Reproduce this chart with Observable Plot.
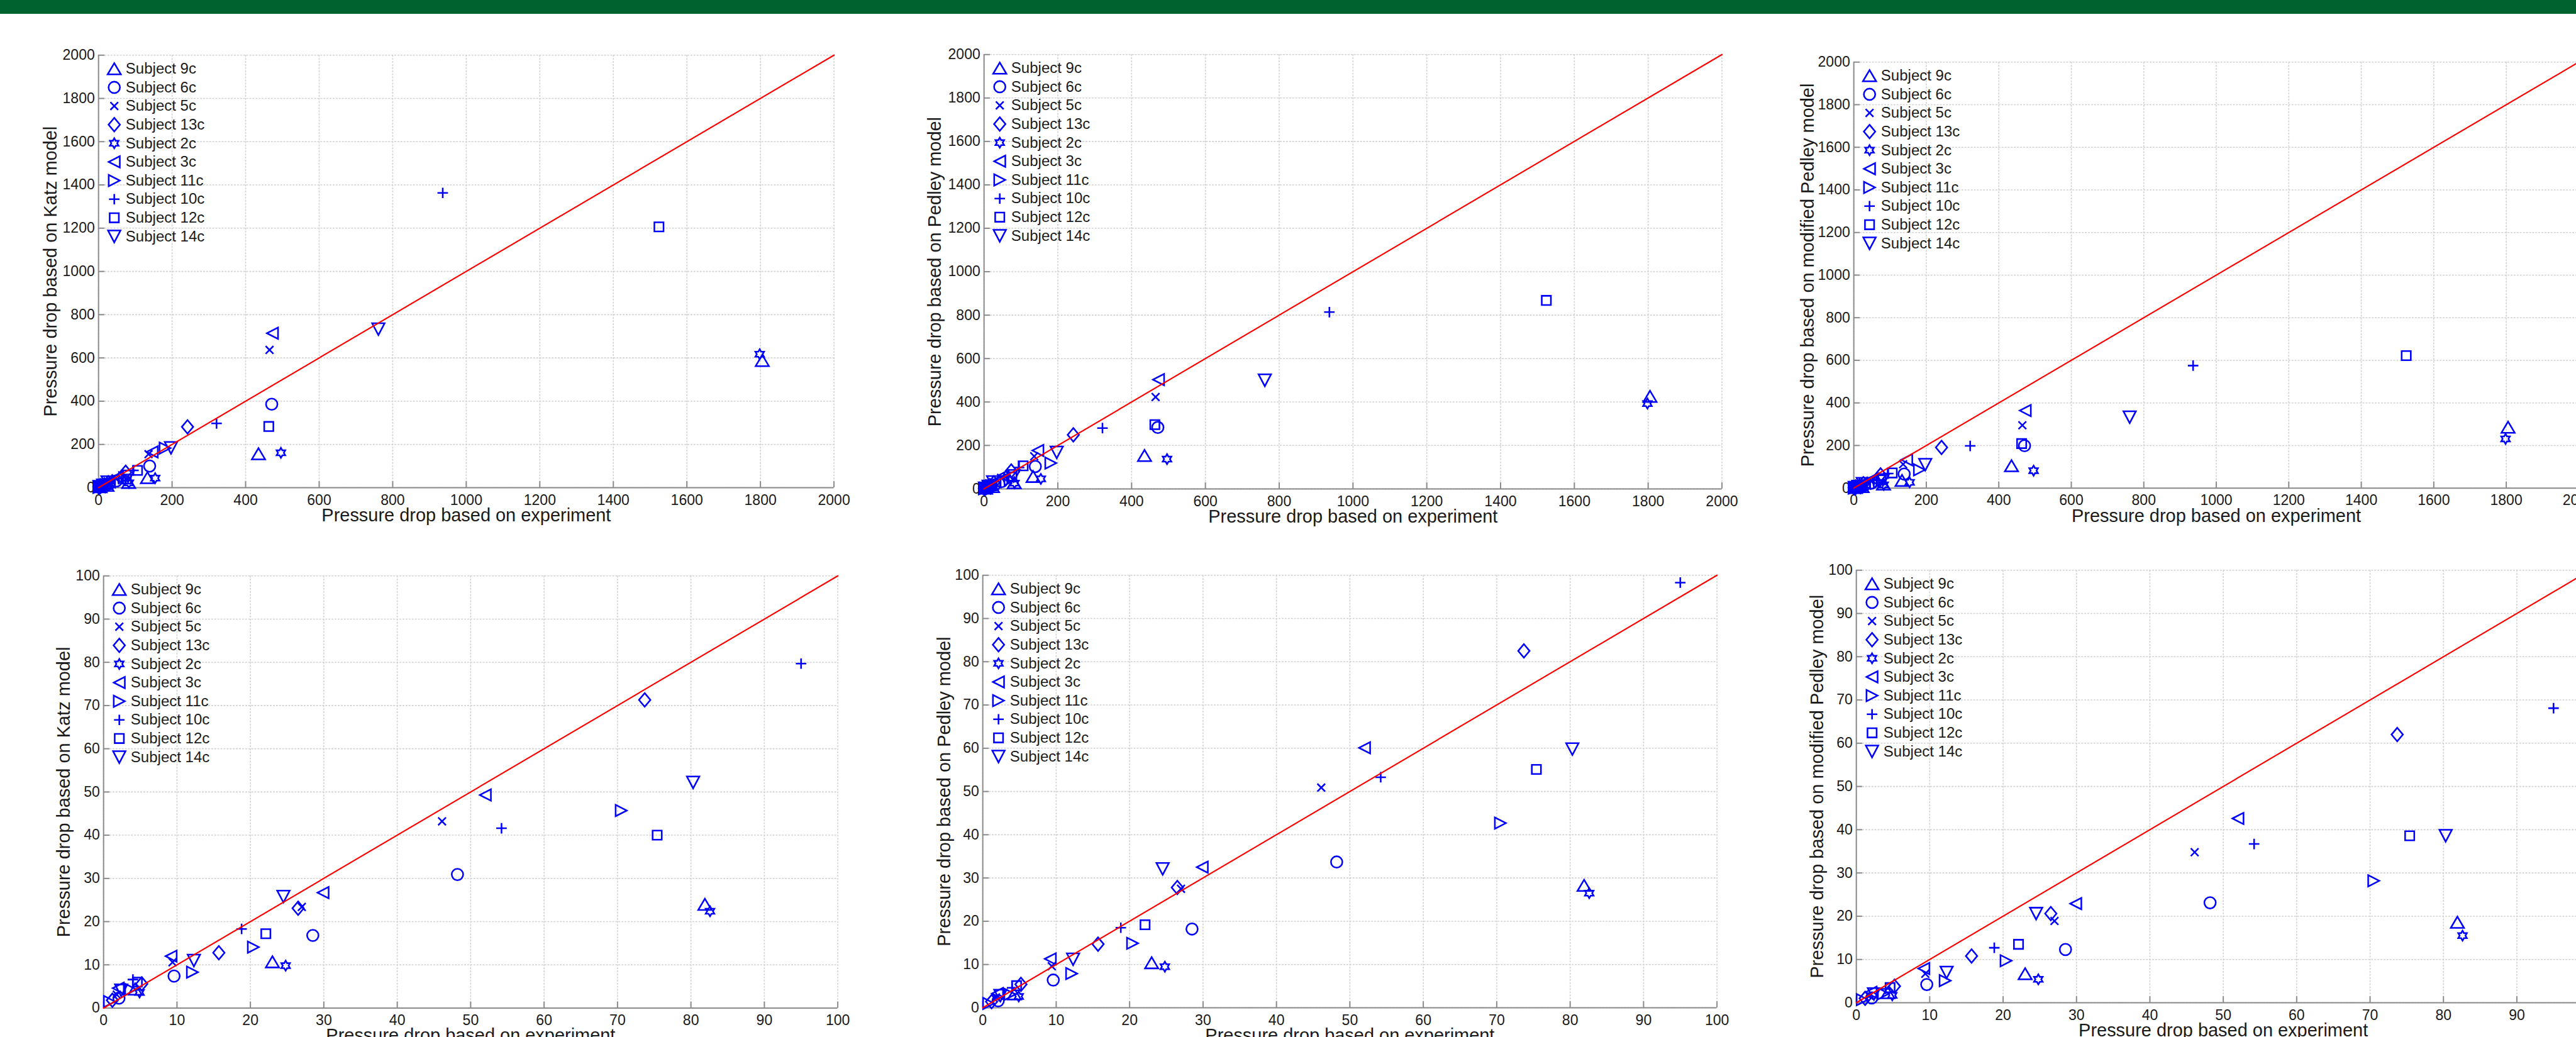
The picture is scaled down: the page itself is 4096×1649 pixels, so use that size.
<!DOCTYPE html>
<html>
<head>
<meta charset="utf-8">
<script src="https://cdn.jsdelivr.net/npm/d3@7"></script>
<script src="https://cdn.jsdelivr.net/npm/@observablehq/plot@0.6"></script>
<style>
html, body { margin: 0; padding: 0; background: #fff; overflow: hidden; }
#page { position: relative; width: 4096px; height: 1649px; overflow: hidden; background: #fff; }
#bar { position: absolute; left: 0; top: 0; width: 100%; background: #00622f; }
.panel { position: absolute; }
</style>
</head>
<body>
<div id="page"><div id="bar"></div></div>
<script>
const s = 4096 / 4175;

// ---------- data ----------
const subjects = ["Subject 9c", "Subject 6c", "Subject 5c", "Subject 13c", "Subject 2c",
                  "Subject 3c", "Subject 11c", "Subject 10c", "Subject 12c", "Subject 14c"];
const markerNames = ["triangleUp", "circle", "times", "diamond", "hexagram",
                     "triangleLeft", "triangleRight", "plus", "square", "triangleDown"];

// pressure drop based on experiment (one row per subject)
const experiment = [
  [1805, 435, 133, 81.9, 23.0, 4.3],
  [471, 139, 48.2, 28.5, 9.6, 2.1],
  [465, 136, 46.1, 27.0, 9.4, 1.8],
  [242, 73.7, 26.5, 15.7, 5.2, 1.2],
  [1798, 496, 154, 82.6, 24.8, 4.9],
  [473, 146, 52.0, 29.9, 9.2, 2.0],
  [181, 70.5, 20.4, 12.1, 3.7, 0.8],
  [936, 321, 95.0, 54.2, 18.8, 4.0],
  [1524, 463, 106, 75.4, 22.1, 4.6],
  [761, 197, 80.3, 24.5, 12.3, 2.4]
];
const katz = [
  [588, 157, 46, 24.0, 10.7, 4.4],
  [386, 100, 30.9, 16.8, 7.4, 2.3],
  [637, 155, 43.2, 23.4, 10.6, 3.1],
  [281, 71.3, 23.1, 12.8, 5.6, 1.8],
  [617, 161, 44, 22.4, 9.8, 3.6],
  [714, 165, 49.3, 26.7, 12.0, 4.6],
  [183, 45.7, 14.1, 8.3, 4.3, 1.5],
  [1363, 297, 79.7, 41.6, 18.3, 6.6],
  [1206, 283, 80, 40.0, 17.2, 6.0],
  [733, 184, 52.2, 25.8, 11.0, 4.1]
];
const pedley = [
  [426, 154, 57, 28.3, 10.4, 3.2],
  [283, 103, 33.7, 18.2, 6.4, 1.6],
  [423, 150, 50.9, 27.5, 9.6, 2.4],
  [249, 82.5, 27.8, 14.7, 5.4, 1.4],
  [393, 137, 46, 26.5, 9.5, 2.6],
  [503, 177, 60.1, 32.5, 11.3, 3.3],
  [119, 42.7, 14.9, 7.9, 3.1, 1.0],
  [814, 280, 98.3, 53.3, 18.5, 4.6],
  [868, 296, 106, 55.1, 19.2, 5.1],
  [500, 168, 59.8, 32.1, 11.2, 2.8]
];
const modifiedPedley = [
  [286, 105, 36, 18.6, 6.7, 2.3],
  [199, 66, 23.1, 12.3, 4.2, 1.1],
  [295, 112, 34.8, 18.9, 6.7, 1.6],
  [191, 62.0, 20.6, 10.8, 3.8, 1.0],
  [231, 82, 27, 15.5, 5.4, 1.7],
  [364, 133, 42.6, 22.9, 7.9, 2.4],
  [86, 28.2, 9.7, 5.1, 2.1, 0.7],
  [575, 198, 68.1, 36.7, 12.7, 3.2],
  [622, 209, 71, 38.6, 13.5, 3.5],
  [333, 110, 38.6, 20.6, 7.0, 2.0]
];
const ticksLarge = [0, 200, 400, 600, 800, 1000, 1200, 1400, 1600, 1800, 2000];
const ticksSmall = [0, 10, 20, 30, 40, 50, 60, 70, 80, 90, 100];
const xTitle = "Pressure drop based on experiment";
const yTitles = ["Pressure drop based on Katz model",
                 "Pressure drop based on Pedley model",
                 "Pressure drop based on modified Pedley model"];

// ---------- marker shapes (MATLAB-like) ----------
function polySym(pts) {
  return { draw(ctx, size) {
    const u = Math.sqrt(size / Math.PI) / 10;
    ctx.moveTo(pts[0][0] * u, pts[0][1] * u);
    for (let k = 1; k < pts.length; k++) ctx.lineTo(pts[k][0] * u, pts[k][1] * u);
    ctx.closePath();
  }};
}
function segSym(segs) {
  return { draw(ctx, size) {
    const u = Math.sqrt(size / Math.PI) / 10;
    for (const [a, b] of segs) { ctx.moveTo(a[0] * u, a[1] * u); ctx.lineTo(b[0] * u, b[1] * u); }
  }};
}
const hexPts = d3.range(12).map(k => {
  const ang = (-90 + 30 * k) * Math.PI / 180;
  const rr = k % 2 === 0 ? 8.1 : 8.1 / Math.sqrt(3);
  return [rr * Math.cos(ang), rr * Math.sin(ang)];
});
const symbolShapes = {
  triangleUp: polySym([[0, -9.1], [10.75, 9.1], [-10.75, 9.1]]),
  circle: { draw(ctx, size) { const u = Math.sqrt(size / Math.PI) / 10; ctx.moveTo(9.25 * u, 0); ctx.arc(0, 0, 9.25 * u, 0, 2 * Math.PI); } },
  times: segSym([[[-6.3, -6.3], [6.3, 6.3]], [[-6.3, 6.3], [6.3, -6.3]]]),
  diamond: polySym([[0, -11], [9.25, 0], [0, 11], [-9.25, 0]]),
  hexagram: polySym(hexPts),
  triangleLeft: polySym([[-9, 0], [9, -9.2], [9, 9.2]]),
  triangleRight: polySym([[9, 0], [-9, -9.2], [-9, 9.2]]),
  plus: segSym([[[-8.5, 0], [8.5, 0]], [[0, -8.5], [0, 8.5]]]),
  square: polySym([[-7.4, -7.4], [7.4, -7.4], [7.4, 7.4], [-7.4, 7.4]]),
  triangleDown: polySym([[0, 9.6], [10.1, -9.6], [-10.1, -9.6]])
};

// ---------- layout (reference pixels, scaled by s) ----------
const panels = [
  {model: katz, title: 0, L: 159, R: 1351, T: 89, B: 790, ticks: ticksLarge, ytdx: -77},
  {model: pedley, title: 1, L: 1594, R: 2790, T: 88, B: 792, ticks: ticksLarge, ytdx: -79},
  {model: modifiedPedley, title: 2, L: 3004.5, R: 4179.5, T: 100.5, B: 791, ticks: ticksLarge, ytdx: -74},
  {model: katz, title: 0, L: 167, R: 1357, T: 932.5, B: 1633, ticks: ticksSmall, ytdx: -64.5},
  {model: pedley, title: 1, L: 1592, R: 2782, T: 932, B: 1633, ticks: ticksSmall, ytdx: -62.5},
  {model: modifiedPedley, title: 2, L: 3008, R: 4197.5, T: 924, B: 1625, ticks: ticksSmall, ytdx: -63.5}
];
const M = {l: 150, r: 40, t: 40, b: 70};
const page = document.getElementById("page");
document.getElementById("bar").style.height = (22 * s) + "px";

const blue = "#0000ff";
const axisGray = "#8a8a8a";
const textColor = "#1a1a1a";
const font = '"Liberation Sans", Arial, Helvetica, sans-serif';
const markR = 10 * s;
const markSW = 2.6 * s;

panels.forEach(p => {
  const domain = [p.ticks[0], p.ticks[p.ticks.length - 1]];
  const W = (p.R - p.L + M.l + M.r) * s;
  const H = (p.B - p.T + M.t + M.b) * s;
  const plotW = (p.R - p.L) * s, plotH = (p.B - p.T) * s;

  const rows = [];
  subjects.forEach((name, i) => experiment[i].forEach((x, j) => {
    const y = p.model[i][j];
    if (x <= domain[1] && y <= domain[1]) rows.push({i, x, y});
  }));

  const gridStyle = {stroke: "#d2d2d2", strokeOpacity: 1, strokeWidth: 1.6 * s, strokeDasharray: `${3 * s},${2 * s}`};
  const marks = [
    Plot.gridX(p.ticks, gridStyle),
    Plot.gridY(p.ticks, gridStyle),
    Plot.tickX(p.ticks, {x: d => d, insetTop: plotH - 10 * s, stroke: axisGray, strokeWidth: 2 * s}),
    Plot.tickY(p.ticks, {y: d => d, insetRight: plotW - 10 * s, stroke: axisGray, strokeWidth: 2 * s}),
    Plot.ruleX([domain[0]], {stroke: axisGray, strokeWidth: 2 * s}),
    Plot.ruleY([domain[0]], {stroke: axisGray, strokeWidth: 2 * s}),
    Plot.axisX(p.ticks, {tickSize: 0, tickPadding: 11 * s, fontSize: 23.5 * s, tickFormat: d => String(d), label: null, color: textColor}),
    Plot.axisY(p.ticks, {tickSize: 0, tickPadding: 6 * s, fontSize: 23.5 * s, tickFormat: d => String(d), label: null, color: textColor}),
    ...subjects.map((name, i) => Plot.dot(rows.filter(d => d.i === i), {
      x: "x", y: "y", symbol: symbolShapes[markerNames[i]], r: markR,
      stroke: blue, fill: "none", strokeWidth: markSW
    })),
    Plot.line(domain, {x: d => d, y: d => d, stroke: "#ff0000", strokeWidth: 2.2 * s}),
    ...subjects.map((name, i) => Plot.dot([name], {
      frameAnchor: "top-left", dx: 25.5 * s, dy: (22 + 30.2 * i) * s,
      symbol: symbolShapes[markerNames[i]], r: markR, stroke: blue, fill: "none", strokeWidth: markSW
    })),
    ...subjects.map((name, i) => Plot.text([name], {
      frameAnchor: "top-left", dx: 44 * s, dy: (22 + 30.2 * i) * s,
      textAnchor: "start", lineAnchor: "middle", fontSize: 24.5 * s, fill: textColor
    })),
    Plot.text([xTitle], {frameAnchor: "bottom", dy: 45 * s, textAnchor: "middle", lineAnchor: "middle", fontSize: 29.5 * s, fill: textColor}),
    Plot.text([yTitles[p.title]], {frameAnchor: "left", dx: p.ytdx * s, rotate: -90, textAnchor: "middle", lineAnchor: "middle", fontSize: 29.5 * s, fill: textColor})
  ];

  const svg = Plot.plot({
    width: W, height: H,
    marginLeft: M.l * s, marginRight: M.r * s, marginTop: M.t * s, marginBottom: M.b * s,
    x: {domain, label: null},
    y: {domain, label: null},
    style: {fontFamily: font, background: "transparent", overflow: "visible", maxWidth: "none"},
    marks
  });
  const div = document.createElement("div");
  div.className = "panel";
  div.style.left = ((p.L - M.l) * s) + "px";
  div.style.top = ((p.T - M.t) * s) + "px";
  div.style.width = W + "px";
  div.style.height = H + "px";
  div.appendChild(svg);
  page.appendChild(div);
});
</script>
</body>
</html>
